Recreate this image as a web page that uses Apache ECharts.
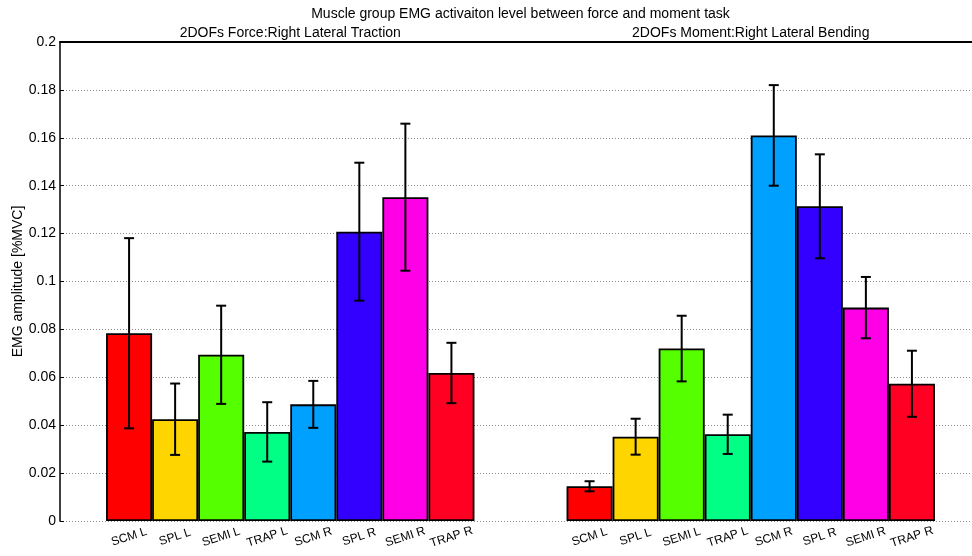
<!DOCTYPE html>
<html>
<head>
<meta charset="utf-8">
<script src="https://cdn.jsdelivr.net/npm/echarts@6/dist/echarts.min.js"></script>
<style>html,body{margin:0;padding:0;background:#fff;}#c{width:972px;height:556px;}</style>
</head>
<body>
<div id="c"></div>
<script>
// ---- data ----
var categories = ['SCM L','SPL L','SEMI L','TRAP L','SCM R','SPL R','SEMI R','TRAP R'];
var barColors = ['#FF0000','#FFD500','#55FF00','#00FF84','#00A0FF','#3300FF','#FF00E6','#FF0022'];
var forceMean = [0.0784, 0.0425, 0.0694, 0.0372, 0.0487, 0.1208, 0.1352, 0.0618];
var forceErr  = [0.0397, 0.0149, 0.0205, 0.0124, 0.0098, 0.0288, 0.0307, 0.0126];
var momentMean = [0.0145, 0.0352, 0.0720, 0.0362, 0.1610, 0.1314, 0.0891, 0.0573];
var momentErr  = [0.0021, 0.0075, 0.0137, 0.0082, 0.0210, 0.0217, 0.0128, 0.0138];
var yTicks = [0, 0.02, 0.04, 0.06, 0.08, 0.1, 0.12, 0.14, 0.16, 0.18, 0.2];
var mainTitle = 'Muscle group EMG activaiton level between force and moment task';
var groupTitles = ['2DOFs Force:Right Lateral Traction', '2DOFs Moment:Right Lateral Bending'];
var yName = 'EMG amplitude [%MVC]';

// ---- build slots: blank, 8 bars, blank, blank, 8 bars, blank ----
var xCats = [''].concat(categories, ['', ''], categories, ['']);
var barData = [];
var errData = [];
function addGroup(start, means, errs) {
  for (var i = 0; i < means.length; i++) {
    barData[start + i] = { value: means[i], itemStyle: { color: barColors[i] } };
    errData.push([start + i, means[i] - errs[i], means[i] + errs[i]]);
  }
}
for (var k = 0; k < xCats.length; k++) barData.push(null);
addGroup(1, forceMean, forceErr);
addGroup(11, momentMean, momentErr);

var FONT = "'Liberation Sans', Arial, sans-serif";
var chart = echarts.init(document.getElementById('c'), null, { renderer: 'canvas' });
chart.setOption({
  animation: false,
  backgroundColor: '#fff',
  textStyle: { fontFamily: FONT },
  grid: { left: 60, top: 42, height: 479, width: 921, containLabel: false, outerBoundsMode: 'none' },
  xAxis: [{
    type: 'category',
    data: xCats,
    boundaryGap: true,
    axisLine: { show: false },
    axisTick: { show: false },
    axisLabel: {
      interval: 0, rotate: 18, align: 'center', verticalAlign: 'middle',
      margin: 16, color: '#000', fontSize: 12, fontFamily: FONT
    },
    splitLine: { show: false }
  }, {
    type: 'category',
    data: xCats,
    position: 'top',
    axisLine: { show: true, lineStyle: { color: '#000', width: 2 } },
    axisTick: { show: false },
    axisLabel: { show: false }
  }],
  yAxis: {
    type: 'value',
    min: 0, max: 0.2, interval: 0.02,
    axisLine: { show: true, lineStyle: { color: '#000', width: 1.5 } },
    axisTick: { show: true, inside: true, length: 4, lineStyle: { color: '#000' } },
    axisLabel: {
      margin: 4, color: '#000', fontSize: 14, fontFamily: FONT,
      formatter: function (v) { return String(+v.toFixed(2)); }
    },
    splitLine: { show: true, lineStyle: { color: '#8a8a8a', type: [1, 2], width: 1 } },
    name: yName,
    nameLocation: 'middle',
    nameGap: 35,
    nameMoveOverlap: false,
    nameTextStyle: { color: '#000', fontSize: 14, fontFamily: FONT }
  },
  series: [{
    type: 'bar',
    data: barData,
    barCategoryGap: '0%',
    barGap: '0%',
    itemStyle: { borderColor: '#000', borderWidth: 1.8 },
    z: 2
  }, {
    type: 'custom',
    data: errData,
    z: 3,
    renderItem: function (params, api) {
      var x = api.value(0);
      var lo = api.coord([x, api.value(1)]);
      var hi = api.coord([x, api.value(2)]);
      var hw = 5;
      var st = { stroke: '#000', lineWidth: 2 };
      return {
        type: 'group',
        children: [
          { type: 'line', shape: { x1: lo[0], y1: lo[1], x2: hi[0], y2: hi[1] }, style: st },
          { type: 'line', shape: { x1: hi[0] - hw, y1: hi[1], x2: hi[0] + hw, y2: hi[1] }, style: st },
          { type: 'line', shape: { x1: lo[0] - hw, y1: lo[1], x2: lo[0] + hw, y2: lo[1] }, style: st }
        ]
      };
    }
  }]
});

// titles placed relative to axis positions
var titleX = (chart.convertToPixel({ xAxisIndex: 0 }, 0) + chart.convertToPixel({ xAxisIndex: 0 }, 19)) / 2;
var g1 = (chart.convertToPixel({ xAxisIndex: 0 }, 4) + chart.convertToPixel({ xAxisIndex: 0 }, 5)) / 2;
var g2 = (chart.convertToPixel({ xAxisIndex: 0 }, 14) + chart.convertToPixel({ xAxisIndex: 0 }, 15)) / 2;
function txt(t, x, y) {
  return { type: 'text', x: x, y: y, style: { text: t, fontSize: 14, fontFamily: FONT, fill: '#000', align: 'center', verticalAlign: 'middle', textAlign: 'center', textVerticalAlign: 'middle' } };
}
chart.setOption({
  graphic: [ txt(mainTitle, titleX, 14), txt(groupTitles[0], g1, 33), txt(groupTitles[1], g2, 33) ]
});
</script>
</body>
</html>
